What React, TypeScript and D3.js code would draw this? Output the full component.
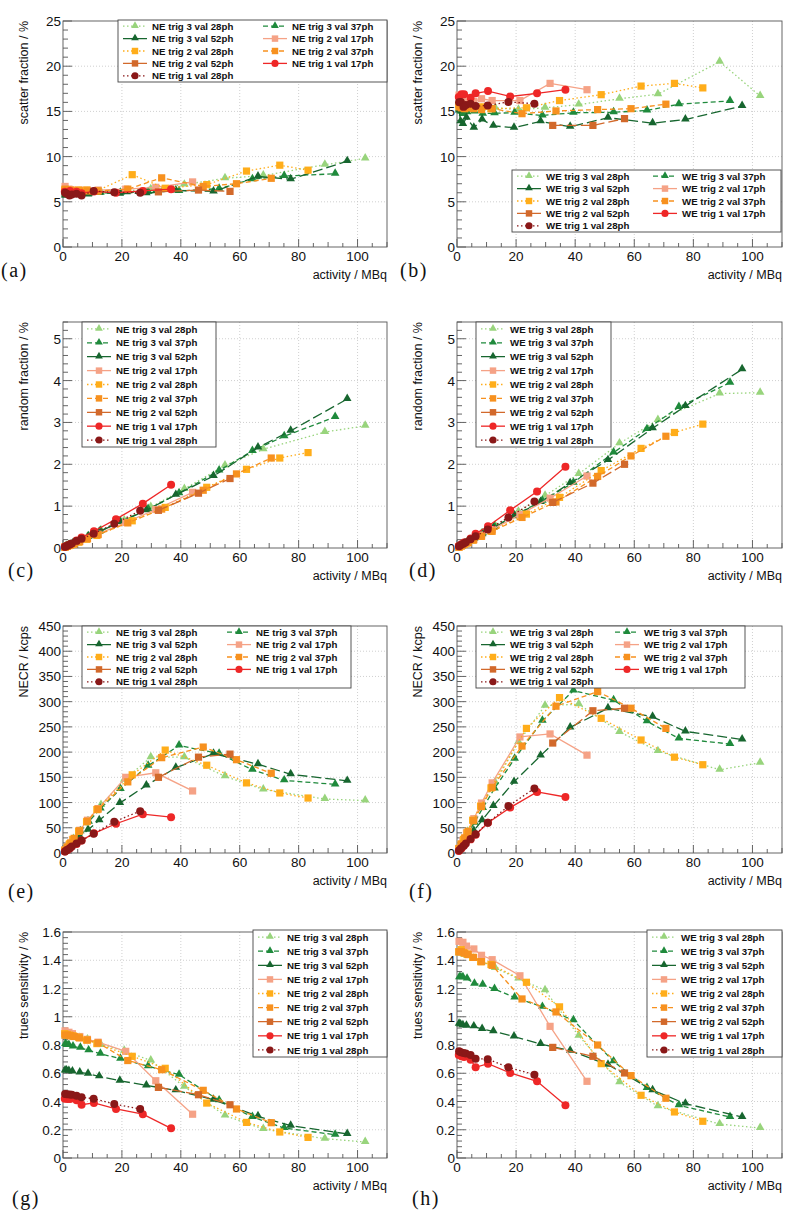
import React from 'react';
import * as d3 from 'd3';

// ---------- series definitions ----------
const SERIES = ['trig 3 val 28ph', 'trig 3 val 37ph', 'trig 3 val 52ph', 'trig 2 val 17ph', 'trig 2 val 28ph', 'trig 2 val 37ph', 'trig 2 val 52ph', 'trig 1 val 17ph', 'trig 1 val 28ph'];
const COLORS = ['#98d47c', '#1f8a3c', '#17662f', '#f5a286', '#ffad1a', '#f7911f', '#d2692b', '#ee2727', '#8a1818'];
const DASHES = ['1.5,2.5', '5,3', '10,4', '', '1.5,2.5', '5,3', '10,4', '', '1.5,2.5'];
const MARKERS = ['tri', 'tri', 'tri', 'sq', 'sq', 'sq', 'sq', 'circ', 'circ'];

// ---------- activity (MBq) per series ----------
const actT3_28 = [0.8, 1.5, 2.4, 3.6, 5.5, 8.3, 12.9, 20.8, 29.8, 41.2, 55.0, 68.0, 88.9, 102.6];
const actT3_37 = [0.8, 1.3, 2.0, 3.4, 5.9, 8.7, 12.7, 19.5, 28.9, 39.4, 53.0, 64.3, 75.1, 92.4];
const actT3_52 = [0.7, 1.2, 2.0, 3.2, 5.7, 8.5, 12.3, 19.3, 28.3, 38.3, 51.1, 66.2, 77.3, 96.5];
const actT2_17 = [0.7, 2.0, 3.2, 5.7, 8.3, 11.9, 21.3, 31.5, 44.0];
const actT2_28 = [0.6, 1.4, 2.2, 3.4, 5.3, 8.0, 11.5, 23.5, 34.7, 48.8, 62.3, 73.6, 83.2];
const actT2_37 = [0.7, 1.5, 2.6, 3.8, 5.6, 8.3, 11.9, 22.0, 33.5, 47.6, 58.9, 70.7];
const actT2_52 = [32.4, 46.0, 56.7];
const actT1_17 = [0.6, 1.5, 2.4, 4.6, 6.3, 10.5, 18.0, 27.1, 36.7];
const actT1_28 = [0.7, 1.3, 2.2, 3.0, 4.6, 6.3, 10.4, 17.4, 26.2];
const ACTIVITY = [actT3_28, actT3_37, actT3_52, actT2_17, actT2_28, actT2_37, actT2_52, actT1_17, actT1_28];

// ---------- (a) NE scatter fraction ----------
const sfNE = [
  [6.0, 5.9, 6.0, 6.0, 6.1, 6.1, 6.1, 6.2, 6.4, 6.9, 7.6, 7.9, 9.1, 9.8],
  [5.9, 5.8, 5.9, 5.9, 5.9, 5.9, 6.0, 6.0, 6.1, 6.2, 6.45, 7.5, 7.85, 8.1],
  [5.7, 5.7, 5.8, 5.8, 5.8, 5.8, 6.0, 5.9, 5.95, 6.25, 6.15, 7.8, 7.5, 9.5],
  [6.7, 6.4, 6.3, 6.3, 6.3, 6.3, 6.4, 6.6, 7.2],
  [6.3, 6.3, 6.2, 6.2, 6.3, 6.3, 6.2, 8.0, 6.5, 6.9, 8.4, 9.05, 8.5],
  [6.4, 6.3, 6.3, 6.2, 6.2, 6.2, 6.2, 6.4, 7.65, 6.7, 7.0, 7.6],
  [6.1, 6.3, 6.15],
  [6.1, 6.0, 6.2, 6.1, 5.95, 6.15, 6.0, 6.2, 6.4],
  [6.0, 5.9, 5.7, 5.8, 5.9, 5.7, 6.2, 6.05, 6.0],
];
// ---------- (b) WE scatter fraction ----------
const sfWE = [
  [15.3, 15.0, 15.2, 15.2, 15.4, 15.3, 15.4, 15.2, 15.4, 15.75, 16.4, 16.9, 20.5, 16.7],
  [15.3, 15.0, 14.7, 14.9, 15.0, 14.75, 14.8, 14.85, 14.55, 14.85, 14.9, 15.1, 15.8, 16.15],
  [15.1, 13.9, 13.6, 14.3, 13.2, 14.1, 13.4, 13.2, 13.9, 13.3, 14.3, 13.7, 14.1, 15.6],
  [16.8, 16.2, 16.0, 16.1, 16.4, 16.2, 16.2, 18.1, 17.4],
  [15.7, 15.6, 15.4, 15.6, 15.5, 15.5, 15.3, 15.4, 16.2, 16.85, 17.8, 18.1, 17.6],
  [15.5, 15.4, 15.3, 15.4, 15.3, 15.2, 15.3, 14.75, 15.05, 15.2, 15.3, 15.8],
  [13.45, 13.45, 14.2],
  [16.6, 16.9, 16.9, 16.5, 17.0, 17.25, 16.65, 17.0, 17.4],
  [16.0, 16.05, 15.5, 15.7, 15.85, 15.6, 15.65, 16.05, 15.85],
];
// ---------- (c) NE random fraction ----------
const rfNE = [
  [0.03, 0.05, 0.08, 0.12, 0.18, 0.27, 0.42, 0.66, 0.98, 1.41, 1.97, 2.36, 2.77, 2.92],
  [0.03, 0.04, 0.07, 0.11, 0.19, 0.28, 0.41, 0.63, 0.93, 1.31, 1.85, 2.32, 2.67, 3.13],
  [0.02, 0.04, 0.06, 0.1, 0.18, 0.27, 0.39, 0.62, 0.9, 1.27, 1.72, 2.4, 2.8, 3.56],
  [0.02, 0.06, 0.09, 0.16, 0.23, 0.33, 0.61, 0.92, 1.33],
  [0.02, 0.04, 0.06, 0.09, 0.14, 0.21, 0.3, 0.65, 0.97, 1.45, 1.88, 2.15, 2.28],
  [0.02, 0.04, 0.07, 0.1, 0.15, 0.22, 0.32, 0.6, 0.93, 1.38, 1.77, 2.15],
  [0.9, 1.31, 1.66],
  [0.03, 0.06, 0.09, 0.18, 0.25, 0.4, 0.69, 1.06, 1.51],
  [0.03, 0.05, 0.08, 0.11, 0.17, 0.22, 0.34, 0.58, 0.89],
];
// ---------- (d) WE random fraction ----------
const rfWE = [
  [0.04, 0.07, 0.1, 0.15, 0.23, 0.35, 0.54, 0.87, 1.25, 1.77, 2.5, 3.06, 3.69, 3.71],
  [0.03, 0.05, 0.08, 0.13, 0.23, 0.35, 0.51, 0.78, 1.13, 1.56, 2.28, 2.84, 3.37, 3.95],
  [0.03, 0.05, 0.08, 0.12, 0.22, 0.33, 0.48, 0.76, 1.1, 1.55, 2.1, 2.86, 3.39, 4.27],
  [0.03, 0.08, 0.12, 0.21, 0.31, 0.44, 0.8, 1.19, 1.72],
  [0.02, 0.05, 0.08, 0.12, 0.19, 0.28, 0.4, 0.81, 1.21, 1.85, 2.38, 2.76, 2.96],
  [0.02, 0.05, 0.09, 0.13, 0.19, 0.28, 0.4, 0.73, 1.1, 1.71, 2.2, 2.67],
  [1.09, 1.55, 2.0],
  [0.05, 0.09, 0.13, 0.23, 0.34, 0.52, 0.9, 1.35, 1.94],
  [0.04, 0.07, 0.1, 0.14, 0.21, 0.28, 0.44, 0.73, 1.11],
];
// ---------- (e) NE NECR ----------
const necrNE = [
  [6, 12, 19, 28, 42, 63, 95, 145, 190, 190, 152, 126, 107, 104],
  [6, 10, 16, 26, 43, 62, 88, 127, 173, 213, 197, 165, 144, 136],
  [4, 7, 12, 19, 32, 46, 65, 99, 134, 169, 197, 176, 156, 143],
  [6, 16, 26, 45, 65, 88, 150, 159, 123],
  [5, 11, 18, 27, 43, 62, 86, 155, 204, 174, 139, 119, 109],
  [6, 12, 20, 29, 44, 63, 87, 141, 189, 210, 185, 158],
  [150, 190, 196],
  [3, 6, 10, 18, 25, 39, 58, 77, 71],
  [3, 6, 9, 13, 19, 25, 38, 62, 83],
];
// ---------- (f) WE NECR ----------
const necrWE = [
  [9, 18, 28, 42, 65, 95, 140, 220, 292, 295, 240, 202, 165, 179],
  [9, 14, 22, 37, 60, 89, 128, 187, 262, 322, 303, 261, 227, 216],
  [5, 9, 16, 25, 44, 65, 93, 141, 193, 249, 287, 270, 241, 225],
  [9, 25, 40, 68, 99, 139, 230, 236, 194],
  [8, 17, 27, 40, 65, 93, 129, 247, 308, 267, 224, 190, 175],
  [9, 18, 30, 43, 64, 92, 130, 212, 291, 320, 287, 247],
  [218, 282, 287],
  [4, 9, 15, 27, 36, 60, 90, 121, 111],
  [5, 9, 14, 19, 28, 37, 60, 93, 128],
];
// ---------- (g) NE trues sensitivity ----------
const tsNE = [
  [0.86, 0.86, 0.86, 0.85, 0.85, 0.84, 0.8, 0.76, 0.69, 0.505, 0.3, 0.205, 0.137, 0.113],
  [0.807, 0.8, 0.8, 0.79, 0.78, 0.762, 0.738, 0.703, 0.65, 0.59, 0.408, 0.29, 0.212, 0.165],
  [0.62, 0.62, 0.617, 0.613, 0.606, 0.597, 0.578, 0.547, 0.514, 0.479, 0.413, 0.295, 0.229, 0.17],
  [0.9, 0.89, 0.88, 0.86, 0.84, 0.82, 0.755, 0.547, 0.31],
  [0.88, 0.875, 0.87, 0.865, 0.855, 0.835, 0.81, 0.72, 0.635, 0.389, 0.252, 0.184, 0.146],
  [0.87, 0.87, 0.865, 0.86, 0.85, 0.835, 0.815, 0.69, 0.625, 0.479, 0.347, 0.25],
  [0.5, 0.448, 0.377],
  [0.42, 0.418, 0.418, 0.408, 0.377, 0.39, 0.347, 0.31, 0.21],
  [0.453, 0.452, 0.45, 0.448, 0.44, 0.43, 0.42, 0.382, 0.347],
];
// ---------- (h) WE trues sensitivity ----------
const tsWE = [
  [1.45, 1.45, 1.44, 1.43, 1.41, 1.39, 1.345, 1.27, 1.187, 0.866, 0.536, 0.366, 0.24, 0.212],
  [1.28, 1.28, 1.28, 1.27, 1.234, 1.227, 1.196, 1.137, 1.07, 0.975, 0.684, 0.496, 0.373, 0.29],
  [0.95, 0.945, 0.94, 0.937, 0.932, 0.913, 0.897, 0.86, 0.807, 0.76, 0.66, 0.48, 0.385, 0.29],
  [1.534, 1.527, 1.5, 1.48, 1.435, 1.404, 1.29, 0.932, 0.543],
  [1.46, 1.475, 1.455, 1.445, 1.42, 1.39, 1.37, 1.244, 1.07, 0.668, 0.444, 0.326, 0.26],
  [1.46, 1.46, 1.45, 1.44, 1.42, 1.39, 1.364, 1.126, 1.034, 0.8, 0.583, 0.423],
  [0.783, 0.72, 0.602],
  [0.73, 0.72, 0.715, 0.696, 0.642, 0.668, 0.602, 0.543, 0.373],
  [0.755, 0.748, 0.743, 0.74, 0.73, 0.703, 0.7, 0.642, 0.59],
];

// ---------- axis tick values ----------
const X_MAJOR = [0, 20, 40, 60, 80, 100];
const SF_TICKS = [0, 5, 10, 15, 20, 25];
const RF_TICKS = [0, 1, 2, 3, 4, 5];
const NECR_TICKS = [0, 50, 100, 150, 200, 250, 300, 350, 400, 450];
const TS_TICKS = [0, 0.2, 0.4, 0.6, 0.8, 1, 1.2, 1.4, 1.6];

// ---------- layout ----------
const COL_L = [63, 457];
const COL_R = [387, 782];
const ROW_T = [21, 322, 626, 932];
const ROW_B = [247, 548, 853, 1158];
const FONT = '"Liberation Sans", Arial, Helvetica, sans-serif';

type Legend = { x: number; y: number; w: number; h: number; cols: number; col2: number };
type PanelCfg = {
  letter: string; side: string; data: number[][]; yMax: number; yTicks: number[]; yMinor: number;
  yTitle: string; col: number; row: number; legend: Legend; letterPos: [number, number];
};

const PANELS: PanelCfg[] = [
  { letter: '(a)', side: 'NE', data: sfNE, yMax: 25, yTicks: SF_TICKS, yMinor: 1, yTitle: 'scatter fraction / %', col: 0, row: 0,
    legend: { x: 118, y: 20, w: 269, h: 62, cols: 2, col2: 140 }, letterPos: [1, 277] },
  { letter: '(b)', side: 'WE', data: sfWE, yMax: 25, yTicks: SF_TICKS, yMinor: 1, yTitle: 'scatter fraction / %', col: 1, row: 0,
    legend: { x: 512, y: 170, w: 269, h: 62, cols: 2, col2: 136 }, letterPos: [400, 277] },
  { letter: '(c)', side: 'NE', data: rfNE, yMax: 5.4, yTicks: RF_TICKS, yMinor: 0.2, yTitle: 'random fraction / %', col: 0, row: 1,
    legend: { x: 82, y: 322, w: 134, h: 125, cols: 1, col2: 0 }, letterPos: [8, 577] },
  { letter: '(d)', side: 'WE', data: rfWE, yMax: 5.4, yTicks: RF_TICKS, yMinor: 0.2, yTitle: 'random fraction / %', col: 1, row: 1,
    legend: { x: 476, y: 322, w: 135, h: 125, cols: 1, col2: 0 }, letterPos: [409, 577] },
  { letter: '(e)', side: 'NE', data: necrNE, yMax: 450, yTicks: NECR_TICKS, yMinor: 10, yTitle: 'NECR / kcps', col: 0, row: 2,
    legend: { x: 82, y: 626, w: 269, h: 62, cols: 2, col2: 140 }, letterPos: [8, 898] },
  { letter: '(f)', side: 'WE', data: necrWE, yMax: 450, yTicks: NECR_TICKS, yMinor: 10, yTitle: 'NECR / kcps', col: 1, row: 2,
    legend: { x: 476, y: 626, w: 269, h: 62, cols: 2, col2: 134 }, letterPos: [409, 898] },
  { letter: '(g)', side: 'NE', data: tsNE, yMax: 1.6, yTicks: TS_TICKS, yMinor: 0.04, yTitle: 'trues sensitivity / %', col: 0, row: 3,
    legend: { x: 253, y: 930, w: 134, h: 127, cols: 1, col2: 0 }, letterPos: [12, 1205] },
  { letter: '(h)', side: 'WE', data: tsWE, yMax: 1.6, yTicks: TS_TICKS, yMinor: 0.04, yTitle: 'trues sensitivity / %', col: 1, row: 3,
    legend: { x: 647, y: 930, w: 135, h: 127, cols: 1, col2: 0 }, letterPos: [412, 1205] },
];

function Marker({ kind, x, y, color, s = 1 }: { kind: string; x: number; y: number; color: string; s?: number }) {
  const type = kind === 'tri' ? d3.symbolTriangle : kind === 'sq' ? d3.symbolSquare : d3.symbolCircle;
  const size = (kind === 'tri' ? 32 : kind === 'sq' ? 52 : 50) * s;
  const path = d3.symbol().type(type).size(size)() || '';
  const dy = kind === 'tri' ? -0.5 : 0;
  return <path d={path} transform={`translate(${x},${y + dy})`} fill={color} />;
}

function Panel({ cfg }: { cfg: PanelCfg }) {
  const x0 = COL_L[cfg.col], x1 = COL_R[cfg.col];
  const y0 = ROW_T[cfg.row], y1 = ROW_B[cfg.row];
  const xs = d3.scaleLinear().domain([0, 110]).range([x0, x1]);
  const ys = d3.scaleLinear().domain([0, cfg.yMax]).range([y1, y0]);
  const fmt = d3.format('~g');
  const xMinor = d3.range(0, 110.001, 5);
  const yMinor = d3.range(0, cfg.yMax + 1e-9, cfg.yMinor);
  const line = d3.line<[number, number]>().x(d => xs(d[0])).y(d => ys(d[1]));
  const lg = cfg.legend;
  const rows = Math.ceil(SERIES.length / lg.cols);
  const rowH = lg.h / rows;
  return (
    <g>
      {/* grid */}
      {X_MAJOR.filter(v => v > 0).map(v => (
        <line key={'gx' + v} x1={xs(v)} x2={xs(v)} y1={y0} y2={y1} stroke="#c4c4c4" strokeWidth={0.8} strokeDasharray="1,2" />
      ))}
      {cfg.yTicks.filter(v => v > 0 && v < cfg.yMax).map(v => (
        <line key={'gy' + v} x1={x0} x2={x1} y1={ys(v)} y2={ys(v)} stroke="#c4c4c4" strokeWidth={0.8} strokeDasharray="1,2" />
      ))}
      {/* frame */}
      <rect x={x0} y={y0} width={x1 - x0} height={y1 - y0} fill="none" stroke="#555" strokeWidth={0.9} />
      {/* ticks */}
      {xMinor.map(v => {
        const major = v % 20 === 0;
        const len = major ? 8 : v % 10 === 0 ? 5 : 4;
        return <line key={'tx' + v} x1={xs(v)} x2={xs(v)} y1={y1} y2={y1 - len} stroke="#555" strokeWidth={0.9} />;
      })}
      {yMinor.map((v, i) => {
        const major = cfg.yTicks.some(t => Math.abs(t - v) < 1e-6);
        return <line key={'ty' + i} x1={x0} x2={x0 + (major ? 9 : 5)} y1={ys(v)} y2={ys(v)} stroke="#555" strokeWidth={0.9} />;
      })}
      {/* tick labels */}
      {X_MAJOR.map(v => (
        <text key={'lx' + v} x={xs(v)} y={y1 + 14} textAnchor="middle" fontFamily={FONT} fontSize={13.5} fill="#111">{fmt(v)}</text>
      ))}
      {cfg.yTicks.map(v => (
        <text key={'ly' + v} x={x0 - 2} y={ys(v) + 5} textAnchor="end" fontFamily={FONT} fontSize={13.5} fill="#111">{fmt(v)}</text>
      ))}
      {/* titles */}
      <text x={x1} y={y1 + 32} textAnchor="end" fontFamily={FONT} fontSize={12.5} fill="#111">activity / MBq</text>
      <text transform={`translate(${x0 - 35},${y0}) rotate(-90)`} textAnchor="end" fontFamily={FONT} fontSize={12.5} fill="#111">{cfg.yTitle}</text>
      <text x={cfg.letterPos[0]} y={cfg.letterPos[1]} fontFamily='"Liberation Serif", "DejaVu Serif", serif' fontSize={20} letterSpacing={1.5} fill="#111">{cfg.letter}</text>
      {/* series */}
      {cfg.data.map((ys_, si) => {
        const pts = ys_.map((v, i) => [ACTIVITY[si][i], v] as [number, number]);
        return (
          <g key={'s' + si}>
            <path d={line(pts) || ''} fill="none" stroke={COLORS[si]} strokeWidth={1.3} strokeDasharray={DASHES[si]} />
            {pts.map((p, i) => <Marker key={i} kind={MARKERS[si]} x={xs(p[0])} y={ys(p[1])} color={COLORS[si]} />)}
          </g>
        );
      })}
      {/* legend */}
      <rect x={lg.x} y={lg.y} width={lg.w} height={lg.h} fill="#fff" stroke="#444" strokeWidth={0.9} />
      {SERIES.map((name, si) => {
        const r = Math.floor(si / lg.cols), c = si % lg.cols;
        const cy = lg.y + (r + 0.5) * rowH;
        const lx = lg.x + 5 + c * lg.col2;
        return (
          <g key={'lg' + si}>
            <line x1={lx} x2={lx + 24} y1={cy} y2={cy} stroke={COLORS[si]} strokeWidth={1.3} strokeDasharray={DASHES[si]} />
            <Marker kind={MARKERS[si]} x={lx + 12} y={cy} color={COLORS[si]} s={0.8} />
            <text x={lx + 29} y={cy + 3.6} fontFamily={FONT} fontSize={9.7} fontWeight="bold" fill="#111">{`${cfg.side} ${name}`}</text>
          </g>
        );
      })}
    </g>
  );
}

export default function App() {
  return (
    <svg width={800} height={1226} style={{ position: 'absolute', left: 0, top: 0, background: '#fff' }}>
      <rect width={800} height={1226} fill="#fff" />
      {PANELS.map(p => <Panel key={p.letter} cfg={p} />)}
    </svg>
  );
}
